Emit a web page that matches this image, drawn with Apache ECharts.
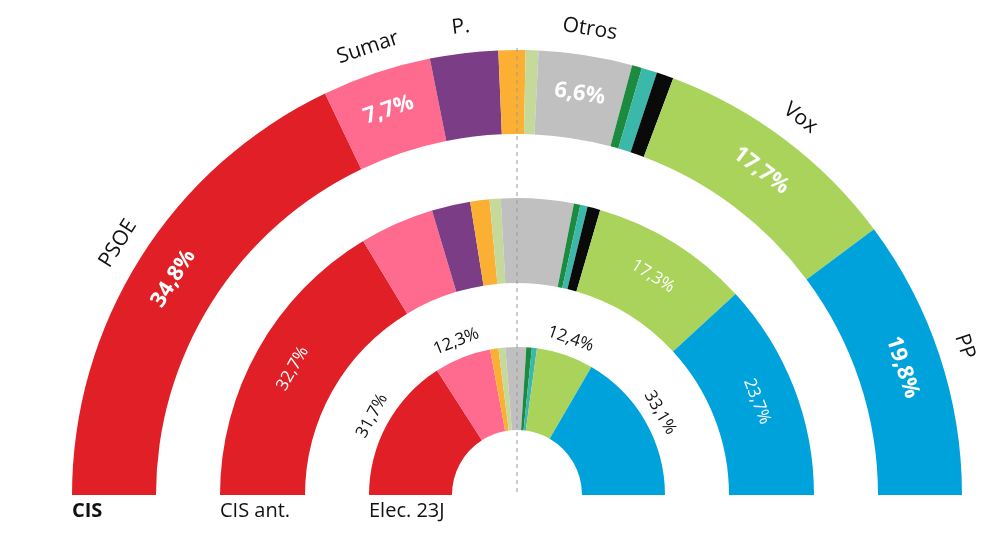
<!DOCTYPE html>
<html>
<head>
<meta charset="utf-8">
<title>Estimación de voto</title>
<script src="https://cdn.jsdelivr.net/npm/echarts@6/dist/echarts.min.js"></script>
<style>
  html, body { margin: 0; padding: 0; background: #fff; }
  #chart { width: 1000px; height: 540px; }
</style>
</head>
<body>
<div id="chart"></div>
<script>
// parties in drawing order (left to right along the arc)
var parties = ['PSOE', 'Sumar', 'Podemos', 'ERC', 'Bildu', 'Otros', 'PNV', 'Junts', 'SALF', 'Vox', 'PP'];
var colors = ['#e11f26', '#ff6b8f', '#7b3d85', '#fbb034', '#c5da9a', '#c0c0c0', '#1c8a3f', '#3cb8aa', '#0a0a0a', '#a9d35b', '#00a2dc'];

// vote share, %
var cis = [34.8, 7.7, 4.8, 1.9, 0.9, 6.6, 0.7, 1.1, 1.2, 17.7, 19.8];
var cisAnt = [32.7, 8.1, 4.2, 2.1, 1.2, 7.9, 0.7, 0.8, 1.4, 17.3, 23.7];
var elec23J = [31.7, 12.3, 0, 1.8, 1.5, 4.5, 1.2, 1.1, 0, 12.4, 33.1];

// which slices get a printed value
var cisShown = ['PSOE', 'Sumar', 'Otros', 'Vox', 'PP'];
var cisAntShown = ['PSOE', 'Vox', 'PP'];
var elecShown = ['PSOE', 'Sumar', 'Vox', 'PP'];

// party names written round the outer ring
var outerNames = ['PSOE', 'Sumar', 'P.', '', '', 'Otros', '', '', '', 'Vox', 'PP'];

var ringLabels = ['CIS', 'CIS ant.', 'Elec. 23J'];

var FONT = '"Open Sans", "Noto Sans", sans-serif';
var CX = 517, CY = 495;

function pct(v) {
    return v.toFixed(1).replace('.', ',') + '%';
}

function ringData(values) {
    return values.map(function (v, i) {
        return { name: parties[i], value: v, itemStyle: { color: colors[i] } };
    });
}

function ring(values, radius, shown, labelStyle) {
    return {
        type: 'pie',
        center: [CX, CY],
        radius: radius,
        startAngle: 180,
        endAngle: 0,
        clockwise: true,
        avoidLabelOverlap: false,
        silent: true,
        animation: false,
        labelLine: { show: false },
        label: Object.assign({
            show: true,
            position: 'inside',
            rotate: 'tangential',
            fontFamily: FONT,
            formatter: function (p) {
                return shown.indexOf(p.name) >= 0 ? pct(p.value) : '';
            }
        }, labelStyle),
        data: ringData(values)
    };
}

// invisible ring just outside a real one, used only to carry text
function textRing(values, radius, texts, labelStyle) {
    return {
        type: 'pie',
        center: [CX, CY],
        radius: radius,
        startAngle: 180,
        endAngle: 0,
        clockwise: true,
        avoidLabelOverlap: false,
        silent: true,
        animation: false,
        labelLine: { show: false },
        itemStyle: { color: 'rgba(0,0,0,0)' },
        label: Object.assign({
            show: true,
            position: 'inside',
            rotate: 'tangential',
            fontFamily: FONT,
            color: '#111',
            formatter: function (p) { return texts(p); }
        }, labelStyle),
        data: values.map(function (v, i) { return { name: parties[i], value: v }; })
    };
}

var chart = echarts.init(document.getElementById('chart'), null, { renderer: 'canvas' });

var titleStyle = { fontFamily: FONT, fontSize: 20, fontWeight: 'normal', color: '#111' };

var option = {
    backgroundColor: '#fff',
    title: [
        { text: ringLabels[0], left: 72, top: 501, padding: 0, textStyle: Object.assign({}, titleStyle, { fontWeight: 'bold' }) },
        { text: ringLabels[1], left: 220, top: 501, padding: 0, textStyle: titleStyle },
        { text: ringLabels[2], left: 369, top: 501, padding: 0, textStyle: titleStyle }
    ],
    series: [
        ring(cis, [361, 445], cisShown, { color: '#fff', fontSize: 22, fontWeight: 'bold' }),
        textRing(cis, [445, 492], function (p) { return outerNames[parties.indexOf(p.name)]; }, { fontSize: 21 }),
        ring(cisAnt, [212, 297], cisAntShown, { color: '#fff', fontSize: 17, fontWeight: 'normal' }),
        ring(elec23J, [65, 148], [], {}),
        textRing(elec23J, [148, 176], function (p) {
            return elecShown.indexOf(p.name) >= 0 ? pct(p.value) : '';
        }, { fontSize: 17 })
    ],
    graphic: [{
        type: 'line',
        z: 100,
        silent: true,
        shape: { x1: CX, y1: CY - 447, x2: CX, y2: CY },
        style: { stroke: '#9a9a9a', lineWidth: 1, lineDash: [4, 4] }
    }]
};

chart.setOption(option);
</script>
</body>
</html>
